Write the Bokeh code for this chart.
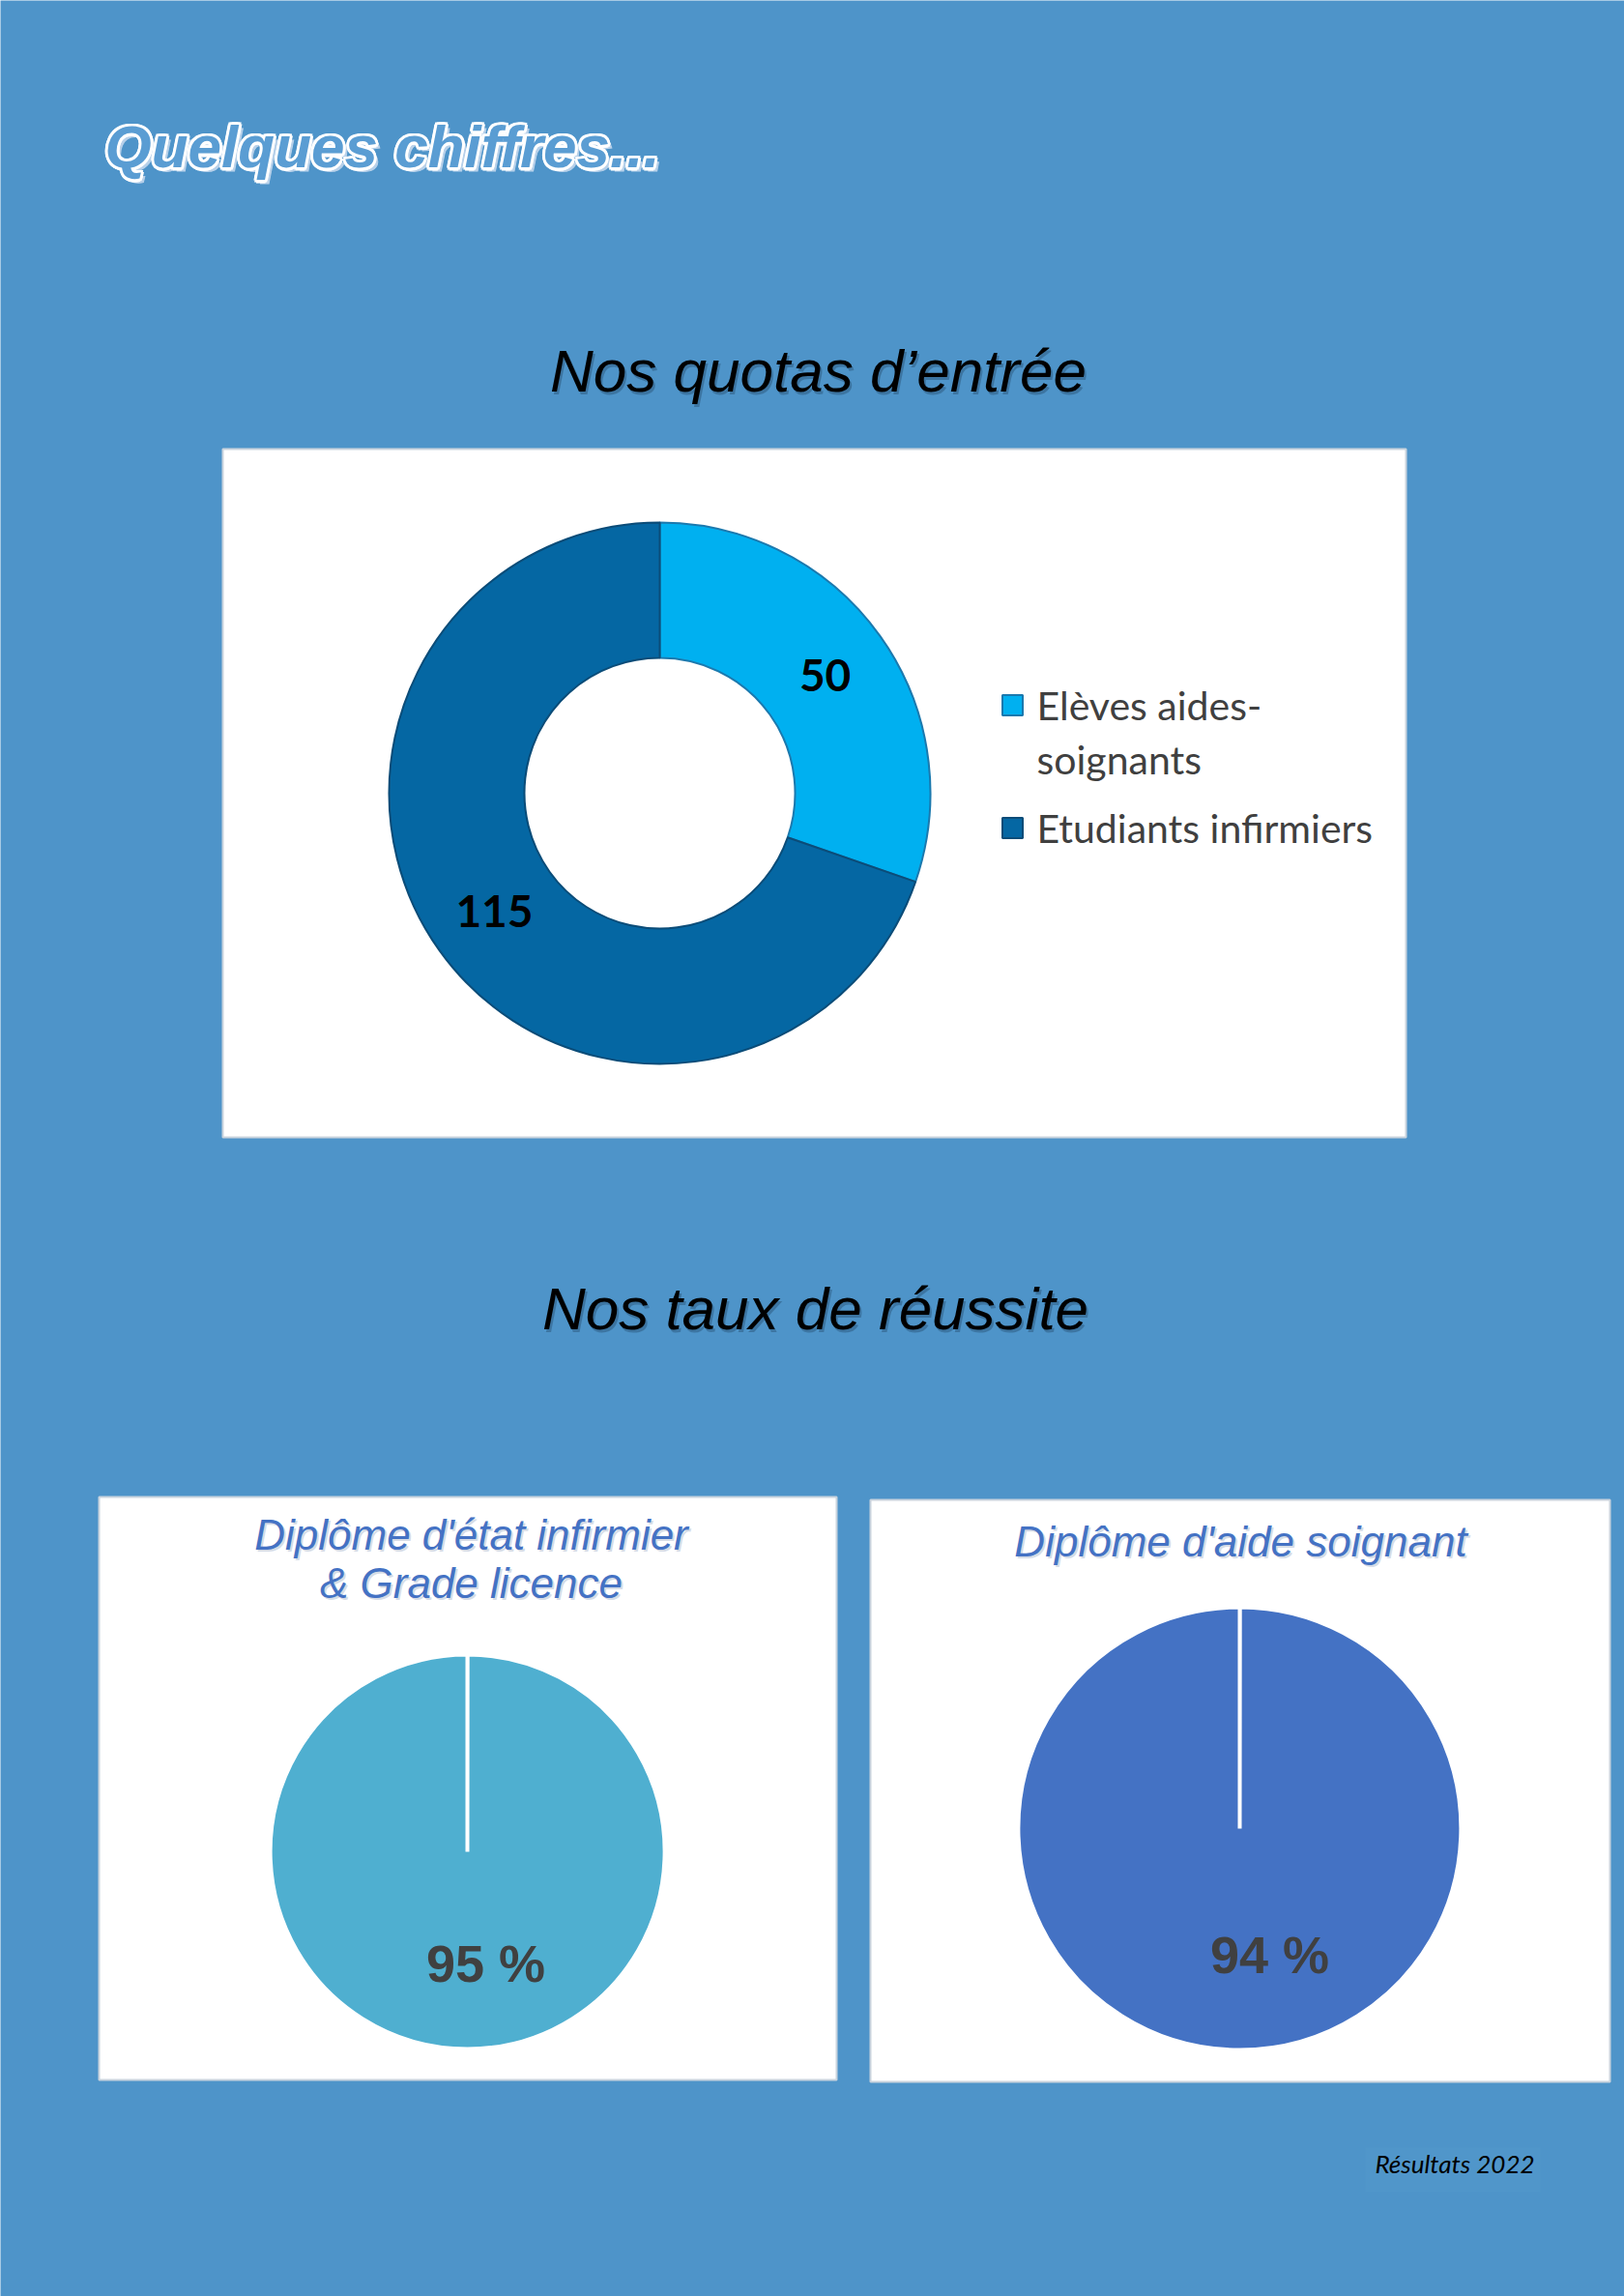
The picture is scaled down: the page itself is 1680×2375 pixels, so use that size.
import math
from bokeh.plotting import figure
from bokeh.models import Range1d
from bokeh.core.properties import value
from bokeh.embed import file_html
from bokeh.resources import INLINE

# ---------------- data ----------------
page_title = "Quelques chiffres..."
quota_title = "Nos quotas d\u2019entr\u00e9e"
quota_labels = ["El\u00e8ves aides-\nsoignants", "Etudiants infirmiers"]
quota_values = [50, 115]
quota_colors = ["#00B0F0", "#0567A3"]
quota_edges = ["#1B79AE", "#0B4C78"]

success_title = "Nos taux de r\u00e9ussite"
diploma_titles = ["Dipl\u00f4me d'\u00e9tat infirmier\n& Grade licence", "Dipl\u00f4me d'aide soignant"]
diploma_rates = [95, 94]
diploma_colors = ["#4FAFD0", "#4472C4"]
footer_text = "R\u00e9sultats 2022"

# ---------------- page geometry ----------------
W, H = 1680, 2375
BG = "#4E94C9"


def Y(py):
    return H - py


p = figure(width=W, height=H, x_range=Range1d(0, W), y_range=Range1d(0, H),
           output_backend="svg", toolbar_location=None, min_border=0,
           x_axis_location=None, y_axis_location=None,
           background_fill_color=BG, border_fill_color=BG, outline_line_color=None)
p.grid.visible = False

# white panels
p.quad(left=[230, 102, 900], right=[1454, 865, 1665],
       top=[Y(464), Y(1548), Y(1551)], bottom=[Y(1176), Y(2151), Y(2153)],
       fill_color="white", line_color="#C9D3DD", line_width=2)
# faint box behind footer
p.quad(left=[1412], right=[1593], top=[Y(2221)], bottom=[Y(2267)],
       fill_color="#5096CA", line_color=None)

# page title (hollow outlined, with pale shadow)
tx, ty = 108, Y(151)
title_kw = dict(text_font=value("Liberation Sans"), text_font_style="bold italic",
                text_font_size="62px", text_align="left", text_baseline="middle")
p.text(x=[tx + 4], y=[ty - 4], text=[page_title], text_color="#B8D1EA",
       text_outline_color="#B8D1EA", **title_kw)
ring = [(math.cos(k * math.pi / 4) * 2.5, math.sin(k * math.pi / 4) * 2.5) for k in range(8)]
p.text(x=[tx + dx for dx, dy in ring], y=[ty + dy for dx, dy in ring],
       text=[page_title] * len(ring), text_color="white", text_outline_color="white", **title_kw)
p.text(x=[tx], y=[ty], text=[page_title], text_color="#5A9DD3", **title_kw)

# section titles (with soft shadow)
sec_kw = dict(text_font=value("Liberation Sans"), text_font_style="italic",
              text_font_size="62px", text_align="center", text_baseline="middle")
for sx, sy, st in [(846, Y(383), quota_title), (843, Y(1353), success_title)]:
    p.text(x=[sx + 2], y=[sy - 3], text=[st], text_color="#1E3C5A", text_alpha=0.35, **sec_kw)
    p.text(x=[sx], y=[sy], text=[st], text_color="black", **sec_kw)

# ---------------- donut ----------------
cx, cy = 682, Y(820)
r_in, r_out = 140, 280
total = float(sum(quota_values))
starts, ends, mids = [], [], []
cum = 0.0
for v in quota_values:
    a0 = math.pi / 2 - 2 * math.pi * cum / total
    cum += v
    a1 = math.pi / 2 - 2 * math.pi * cum / total
    starts.append(a0)
    ends.append(a1)
    mids.append((a0 + a1) / 2)

p.annular_wedge(x=[cx] * len(quota_values), y=[cy] * len(quota_values),
                inner_radius=r_in, outer_radius=r_out,
                start_angle=starts, end_angle=ends, direction="clock",
                fill_color=quota_colors, line_color=quota_edges, line_width=2)

r_lab = 210
p.text(x=[cx + r_lab * math.cos(m) for m in mids],
       y=[cy + r_lab * math.sin(m) for m in mids],
       text=[str(v) for v in quota_values], text_font=value("Lato"),
       text_font_style="bold", text_font_size="46px", text_color="black",
       text_align="center", text_baseline="middle")

# legend (manual)
leg_x, leg_y0, leg_step, line_step = 1047, 729, 127, 56
lx, ly, lt = [], [], []
sq_y = []
yy = leg_y0
for lab in quota_labels:
    sq_y.append(Y(yy))
    for j, part in enumerate(lab.split("\n")):
        lx.append(leg_x + 25)
        ly.append(Y(yy + j * line_step))
        lt.append(part)
    yy += leg_step
p.scatter(x=[leg_x] * len(quota_labels), y=sq_y, marker="square", size=21,
          fill_color=quota_colors, line_color=quota_edges, line_width=2)
p.text(x=lx, y=ly, text=lt, text_font=value("Lato"), text_font_size="41px",
       text_color="#404040", text_align="left", text_baseline="middle")

# ---------------- success pies ----------------
pie_x = [483, 1282]
pie_y = [Y(1915), Y(1891)]
pie_r = [204, 229]
title_x = [487, 1283]
title_mid = [1587, 1594]

for i, rate in enumerate(diploma_rates):
    p.wedge(x=[pie_x[i]], y=[pie_y[i]], radius=pie_r[i],
            start_angle=math.pi / 2, end_angle=math.pi / 2 - 1e-3, direction="anticlock",
            fill_color=diploma_colors[i], line_color="white", line_width=4)
    for j, part in enumerate(diploma_titles[i].split("\n")):
        tkw = dict(text_font=value("Liberation Sans"), text_font_style="italic",
                   text_font_size="44px", text_align="center", text_baseline="middle")
        p.text(x=[title_x[i] + 2], y=[Y(title_mid[i] + j * 50) - 2], text=[part],
               text_color="#8A9BB8", text_alpha=0.35, **tkw)
        p.text(x=[title_x[i]], y=[Y(title_mid[i] + j * 50)], text=[part],
               text_color="#4472C4", **tkw)

lab_dx = [19, 31]
lab_dy = [115, 130]
p.text(x=[pie_x[i] + lab_dx[i] for i in range(2)],
       y=[pie_y[i] - lab_dy[i] for i in range(2)],
       text=[f"{r} %" for r in diploma_rates], text_font=value("Liberation Sans"),
       text_font_style="bold", text_font_size="54px", text_color="#404040",
       text_align="center", text_baseline="middle")

# footer
p.text(x=[1422], y=[Y(2237)], text=[footer_text], text_font=value("Lato"),
       text_font_style="italic", text_font_size="26px", text_color="black",
       text_align="left", text_baseline="middle")

open("out.html", "w").write(file_html(p, INLINE))
